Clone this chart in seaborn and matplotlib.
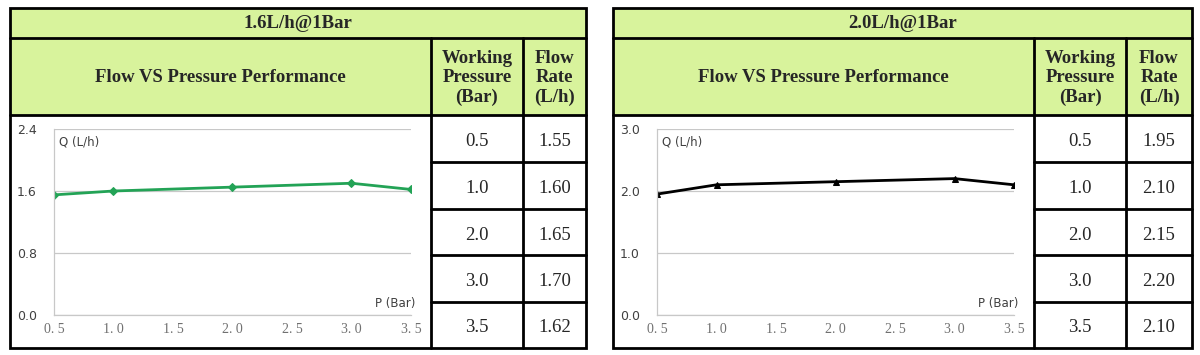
import numpy as np
import pandas as pd
import seaborn as sns
import matplotlib.pyplot as plt
from matplotlib.patches import Rectangle

# data
pressure = [0.5, 1.0, 2.0, 3.0, 3.5]
flow_16 = [1.55, 1.60, 1.65, 1.70, 1.62]
flow_20 = [1.95, 2.10, 2.15, 2.20, 2.10]
titles = ["1.6L/h@1Bar", "2.0L/h@1Bar"]
yticks_16 = [0.0, 0.8, 1.6, 2.4]
yticks_20 = [0.0, 1.0, 2.0, 3.0]
xticks = [0.5, 1.0, 1.5, 2.0, 2.5, 3.0, 3.5]
xtick_labels = ["0. 5", "1. 0", "1. 5", "2. 0", "2. 5", "3. 0", "3. 5"]

sns.set_style("white")
plt.rcParams['font.family'] = ['DejaVu Sans']

W, H = 1200, 355
fig = plt.figure(figsize=(12, 3.55), dpi=100)
bg = fig.add_axes([0, 0, 1, 1])
bg.set_xlim(0, W)
bg.set_ylim(H, 0)
bg.axis('off')

green = '#d8f39c'
serif = 'Liberation Serif'
rows = [8, 38, 115, 162, 209, 255, 302, 348]

panels = [
    dict(title=titles[0], flow=flow_16, yticks=yticks_16, color='#23a356', marker='D', ms=4,
         cols=[10, 431, 523, 586], ax_x=(54, 411)),
    dict(title=titles[1], flow=flow_20, yticks=yticks_20, color='black', marker='^', ms=5,
         cols=[613, 1034, 1126, 1192], ax_x=(657, 1014)),
]

for p in panels:
    x0, x1, x2, x3 = p['cols']
    # table background + borders
    bg.add_patch(Rectangle((x0, rows[0]), x3 - x0, rows[2] - rows[0], facecolor=green, edgecolor='none'))
    bg.add_patch(Rectangle((x0, rows[0]), x3 - x0, rows[-1] - rows[0], facecolor='none', edgecolor='black', lw=2))
    bg.plot([x0, x3], [rows[1]] * 2, color='black', lw=2)
    bg.plot([x0, x3], [rows[2]] * 2, color='black', lw=2)
    for xv in (x1, x2):
        bg.plot([xv, xv], [rows[1], rows[-1]], color='black', lw=2)
    for yv in rows[3:-1]:
        bg.plot([x1, x3], [yv, yv], color='black', lw=2)

    bg.text((x0 + x3) / 2, (rows[0] + rows[1]) / 2 + 1, p['title'], ha='center', va='center',
            family=serif, weight='bold', fontsize=13.5)
    bg.text((x0 + x1) / 2, 77, "Flow VS Pressure Performance", ha='center', va='center',
            family=serif, weight='bold', fontsize=13.5)
    bg.text((x1 + x2) / 2, 78, "Working\nPressure\n(Bar)", ha='center', va='center',
            family=serif, weight='bold', fontsize=13.5, linespacing=1.2)
    bg.text((x2 + x3) / 2, 78, "Flow\nRate\n(L/h)", ha='center', va='center',
            family=serif, weight='bold', fontsize=13.5, linespacing=1.2)

    for i, (pv, fv) in enumerate(zip(pressure, p['flow'])):
        yc = (rows[i + 2] + rows[i + 3]) / 2 + 3
        bg.text((x1 + x2) / 2, yc, f"{pv:.1f}", ha='center', va='center', family=serif, fontsize=13.5)
        bg.text((x2 + x3) / 2, yc, f"{fv:.2f}", ha='center', va='center', family=serif, fontsize=13.5)

    # the chart in the first cell
    ax_l, ax_r = p['ax_x']
    y_top, y_bot = 129, 315
    ax = fig.add_axes([ax_l / W, (H - y_bot) / H, (ax_r - ax_l) / W, (y_bot - y_top) / H])
    df = pd.DataFrame({'P': pressure, 'Q': p['flow']})
    sns.lineplot(data=df, x='P', y='Q', ax=ax, color=p['color'], lw=2,
                 marker=p['marker'], markersize=p['ms'], markeredgecolor=p['color'])
    ax.set_xlim(0.5, 3.5)
    ax.set_ylim(p['yticks'][0], p['yticks'][-1])
    ax.set_yticks(p['yticks'])
    ax.set_yticklabels([f"{v:.1f}" for v in p['yticks']], fontsize=9, color='#404040')
    ax.set_xticks(xticks)
    ax.set_xticklabels(xtick_labels, family=serif, fontsize=10, color='#707070')
    ax.yaxis.grid(True, color='#c8c8c8', lw=0.9)
    ax.set_axisbelow(True)
    ax.tick_params(axis='both', which='major', length=3, color='#bdbdbd', width=0.8, direction='out')
    ax.tick_params(axis='y', pad=9.5)
    ax.tick_params(axis='x', pad=3)
    for s in ('top', 'right'):
        ax.spines[s].set_visible(False)
    for s in ('left', 'bottom'):
        ax.spines[s].set_color('#c8c8c8')
        ax.spines[s].set_linewidth(0.9)
    ax.set_xlabel('')
    ax.set_ylabel('')
    ax.set_facecolor('none')
    ax.text(0.015, 0.93, "Q (L/h)", transform=ax.transAxes, ha='left', va='center',
            fontsize=8.5, color='#404040')
    ax.text(1.012, 0.06, "P (Bar)", transform=ax.transAxes, ha='right', va='center',
            fontsize=8.5, color='#404040')

plt.savefig('out.png', dpi=100)
